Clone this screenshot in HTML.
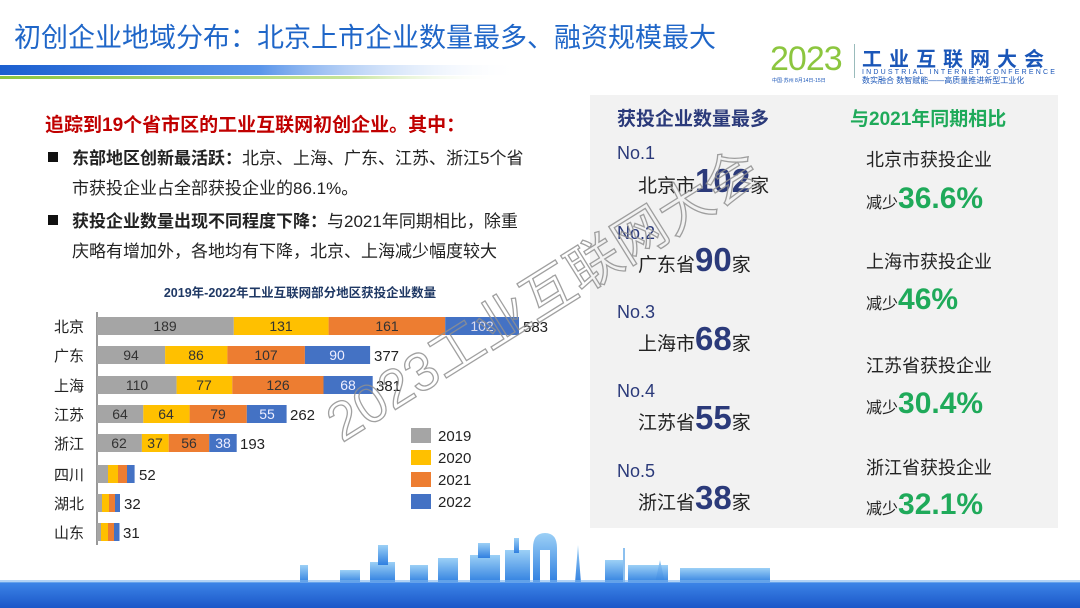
<!DOCTYPE html>
<html><head><meta charset="utf-8"><style>
html,body{margin:0;padding:0;background:#fff;}
body{width:1080px;height:608px;overflow:hidden;position:relative;font-family:"Liberation Sans","Noto Sans CJK SC",sans-serif;}
svg text{font-family:"Liberation Sans","Noto Sans CJK SC",sans-serif;}
</style></head><body>
<svg width="1080" height="608" viewBox="0 0 1080 608" xmlns="http://www.w3.org/2000/svg" style="position:absolute;left:0;top:0">
<defs>
<linearGradient id="hb" x1="0" x2="1"><stop offset="0" stop-color="#1b5fd0"/><stop offset="0.5" stop-color="#5a95ea"/><stop offset="1" stop-color="#ffffff" stop-opacity="0"/></linearGradient>
<linearGradient id="hg" x1="0" x2="1"><stop offset="0" stop-color="#8cc63f"/><stop offset="0.7" stop-color="#c6e49a"/><stop offset="1" stop-color="#fff" stop-opacity="0"/></linearGradient>
<linearGradient id="bb" x1="0" y1="0" x2="0" y2="1"><stop offset="0" stop-color="#3d86e8"/><stop offset="1" stop-color="#1b56c8"/></linearGradient>
<linearGradient id="sk" x1="0" y1="0" x2="0" y2="1"><stop offset="0" stop-color="#9cd0f6"/><stop offset="1" stop-color="#2f7fe0"/></linearGradient>
</defs>
<text x="14" y="47" font-size="27" fill="#1f66c8">初创企业地域分布：北京上市企业数量最多、融资规模最大</text>
<rect x="0" y="65" width="520" height="10" fill="url(#hb)"/>
<rect x="0" y="76" width="500" height="3" fill="url(#hg)"/>
<text x="770" y="70" font-size="34" fill="#8cc63f" letter-spacing="-1">2023</text>
<rect x="854" y="44" width="1" height="34" fill="#9bb"/>
<text x="862" y="66" font-size="20" font-weight="bold" fill="#1a56b8" letter-spacing="7">工业互联网大会</text>
<text x="862" y="74" font-size="7" fill="#1a56b8" letter-spacing="2.2">INDUSTRIAL INTERNET CONFERENCE</text>
<text x="862" y="83" font-size="8" fill="#1a56b8">数实融合  数智赋能——高质量推进新型工业化</text>
<text x="772" y="82" font-size="5" fill="#1a56b8">中国·苏州  8月14日-15日</text>

<text x="45" y="131" font-size="19" font-weight="bold" fill="#c00000">追踪到19个省市区的工业互联网初创企业。其中：</text>
<rect x="48" y="152" width="10" height="10" fill="#111"/>
<text x="72" y="164" font-size="17" fill="#222"><tspan font-weight="bold">东部地区创新最活跃：</tspan>北京、上海、广东、江苏、浙江5个省</text>
<text x="72" y="194" font-size="17" fill="#222">市获投企业占全部获投企业的86.1%。</text>
<rect x="48" y="215" width="10" height="10" fill="#111"/>
<text x="72" y="227" font-size="17" fill="#222"><tspan font-weight="bold">获投企业数量出现不同程度下降：</tspan>与2021年同期相比，除重</text>
<text x="72" y="257" font-size="17" fill="#222">庆略有增加外，各地均有下降，北京、上海减少幅度较大</text>

<text x="300" y="297" font-size="12.5" font-weight="bold" fill="#1f3864" text-anchor="middle">2019年-2022年工业互联网部分地区获投企业数量</text>
<line x1="97" y1="312" x2="97" y2="545" stroke="#333" stroke-width="1"/>
<g font-size="15" fill="#222">
<text x="54" y="332">北京</text><text x="54" y="361">广东</text><text x="54" y="391">上海</text><text x="54" y="420">江苏</text>
<text x="54" y="449">浙江</text><text x="54" y="480">四川</text><text x="54" y="509">湖北</text><text x="54" y="538">山东</text>
</g>
<g>
<rect x="97" y="317" width="136.8" height="18" fill="#a5a5a5"/><rect x="233.8" y="317" width="94.8" height="18" fill="#ffc000"/><rect x="328.6" y="317" width="116.6" height="18" fill="#ed7d31"/><rect x="445.2" y="317" width="73.8" height="18" fill="#4472c4"/>
<rect x="97" y="346" width="68.1" height="18" fill="#a5a5a5"/><rect x="165.1" y="346" width="62.3" height="18" fill="#ffc000"/><rect x="227.4" y="346" width="77.5" height="18" fill="#ed7d31"/><rect x="304.9" y="346" width="65.2" height="18" fill="#4472c4"/>
<rect x="97" y="376" width="79.6" height="18" fill="#a5a5a5"/><rect x="176.6" y="376" width="55.7" height="18" fill="#ffc000"/><rect x="232.3" y="376" width="91.2" height="18" fill="#ed7d31"/><rect x="323.5" y="376" width="49.2" height="18" fill="#4472c4"/>
<rect x="97" y="405" width="46.3" height="18" fill="#a5a5a5"/><rect x="143.3" y="405" width="46.3" height="18" fill="#ffc000"/><rect x="189.6" y="405" width="57.2" height="18" fill="#ed7d31"/><rect x="246.8" y="405" width="39.8" height="18" fill="#4472c4"/>
<rect x="97" y="434" width="44.9" height="18" fill="#a5a5a5"/><rect x="141.9" y="434" width="26.8" height="18" fill="#ffc000"/><rect x="168.7" y="434" width="40.5" height="18" fill="#ed7d31"/><rect x="209.2" y="434" width="27.5" height="18" fill="#4472c4"/>
<rect x="97" y="465" width="11" height="18" fill="#a5a5a5"/><rect x="108" y="465" width="10" height="18" fill="#ffc000"/><rect x="118" y="465" width="9" height="18" fill="#ed7d31"/><rect x="127" y="465" width="7.6" height="18" fill="#4472c4"/>
<rect x="97" y="494" width="5" height="18" fill="#a5a5a5"/><rect x="102" y="494" width="7" height="18" fill="#ffc000"/><rect x="109" y="494" width="6" height="18" fill="#ed7d31"/><rect x="115" y="494" width="5" height="18" fill="#4472c4"/>
<rect x="97" y="523" width="4" height="18" fill="#a5a5a5"/><rect x="101" y="523" width="7" height="18" fill="#ffc000"/><rect x="108" y="523" width="6" height="18" fill="#ed7d31"/><rect x="114" y="523" width="5.5" height="18" fill="#4472c4"/>
</g>
<g font-size="14" fill="#333" text-anchor="middle">
<text x="165" y="331">189</text><text x="281" y="331">131</text><text x="387" y="331">161</text><text x="482" y="331" fill="#dde">102</text>
<text x="131" y="360">94</text><text x="196" y="360">86</text><text x="266" y="360">107</text><text x="337" y="360" fill="#eef">90</text>
<text x="137" y="390">110</text><text x="204" y="390">77</text><text x="278" y="390">126</text><text x="348" y="390" fill="#eef">68</text>
<text x="120" y="419">64</text><text x="166" y="419">64</text><text x="218" y="419">79</text><text x="267" y="419" fill="#eef">55</text>
<text x="119" y="448">62</text><text x="155" y="448">37</text><text x="189" y="448">56</text><text x="223" y="448" fill="#eef">38</text>
</g>
<g font-size="15" fill="#222">
<text x="523" y="332">583</text><text x="374" y="361">377</text><text x="376" y="391">381</text><text x="290" y="420">262</text><text x="240" y="449">193</text>
<text x="139" y="480">52</text><text x="124" y="509">32</text><text x="123" y="538">31</text>
</g>
<rect x="411" y="428" width="20" height="15" fill="#a5a5a5"/><rect x="411" y="450" width="20" height="15" fill="#ffc000"/>
<rect x="411" y="472" width="20" height="15" fill="#ed7d31"/><rect x="411" y="494" width="20" height="15" fill="#4472c4"/>
<g font-size="15" fill="#222"><text x="438" y="441">2019</text><text x="438" y="463">2020</text><text x="438" y="485">2021</text><text x="438" y="507">2022</text></g>

<rect x="590" y="95" width="468" height="433" fill="#f2f2f2"/>
<text x="617" y="125" font-size="19" font-weight="bold" fill="#2b3a7a">获投企业数量最多</text>
<text x="850" y="125" font-size="19" font-weight="bold" fill="#1faa5a">与2021年同期相比</text>
<g fill="#2b3a7a">
<text x="617" y="159" font-size="18">No.1</text>
<text x="638" y="192" font-size="19" fill="#222">北京市<tspan font-size="33" font-weight="bold" fill="#2b3a7a">102</tspan><tspan font-size="19" fill="#222">家</tspan></text>
<text x="617" y="239" font-size="18">No.2</text>
<text x="638" y="271" font-size="19" fill="#222">广东省<tspan font-size="33" font-weight="bold" fill="#2b3a7a">90</tspan><tspan font-size="19" fill="#222">家</tspan></text>
<text x="617" y="318" font-size="18">No.3</text>
<text x="638" y="350" font-size="19" fill="#222">上海市<tspan font-size="33" font-weight="bold" fill="#2b3a7a">68</tspan><tspan font-size="19" fill="#222">家</tspan></text>
<text x="617" y="397" font-size="18">No.4</text>
<text x="638" y="429" font-size="19" fill="#222">江苏省<tspan font-size="33" font-weight="bold" fill="#2b3a7a">55</tspan><tspan font-size="19" fill="#222">家</tspan></text>
<text x="617" y="477" font-size="18">No.5</text>
<text x="638" y="509" font-size="19" fill="#222">浙江省<tspan font-size="33" font-weight="bold" fill="#2b3a7a">38</tspan><tspan font-size="19" fill="#222">家</tspan></text>
</g>
<g font-size="18" fill="#222">
<text x="866" y="166">北京市获投企业</text>
<text x="866" y="208" font-size="16">减少<tspan font-size="30" font-weight="bold" fill="#1faa5a">36.6%</tspan></text>
<text x="866" y="268">上海市获投企业</text>
<text x="866" y="309" font-size="16">减少<tspan font-size="30" font-weight="bold" fill="#1faa5a">46%</tspan></text>
<text x="866" y="372">江苏省获投企业</text>
<text x="866" y="413" font-size="16">减少<tspan font-size="30" font-weight="bold" fill="#1faa5a">30.4%</tspan></text>
<text x="866" y="474">浙江省获投企业</text>
<text x="866" y="514" font-size="16">减少<tspan font-size="30" font-weight="bold" fill="#1faa5a">32.1%</tspan></text>
</g>

<text transform="translate(342,443) rotate(-32)" font-size="54" fill="none" stroke="#909090" stroke-width="1.3" opacity="0.85">2023工业互联网大会</text>

<g fill="url(#sk)">
<rect x="370" y="562" width="25" height="20"/><rect x="378" y="545" width="10" height="20"/>
<rect x="438" y="558" width="20" height="25"/><rect x="470" y="555" width="30" height="28"/><rect x="478" y="543" width="12" height="15"/>
<rect x="505" y="550" width="25" height="33"/><rect x="514" y="538" width="5" height="15"/>
<path d="M533 583 V548 Q533 533 545 533 Q557 533 557 548 V583 H550 V550 H540 V583 Z"/>
<path d="M575 583 L578 545 L581 583 Z"/>
<rect x="605" y="560" width="18" height="23"/><rect x="628" y="565" width="40" height="18"/>
<path d="M655 583 L660 560 L665 583 Z"/><rect x="680" y="568" width="90" height="15"/>
<rect x="300" y="565" width="8" height="18"/><rect x="340" y="570" width="20" height="13"/><rect x="410" y="565" width="18" height="18"/>
</g>
<rect x="623" y="548" width="2" height="35" fill="#8cc0ef"/>
<rect x="0" y="582" width="1080" height="26" fill="url(#bb)"/>
<rect x="0" y="580" width="1080" height="3" fill="#7fb6ef" opacity="0.6"/>
</svg>
</body></html>
